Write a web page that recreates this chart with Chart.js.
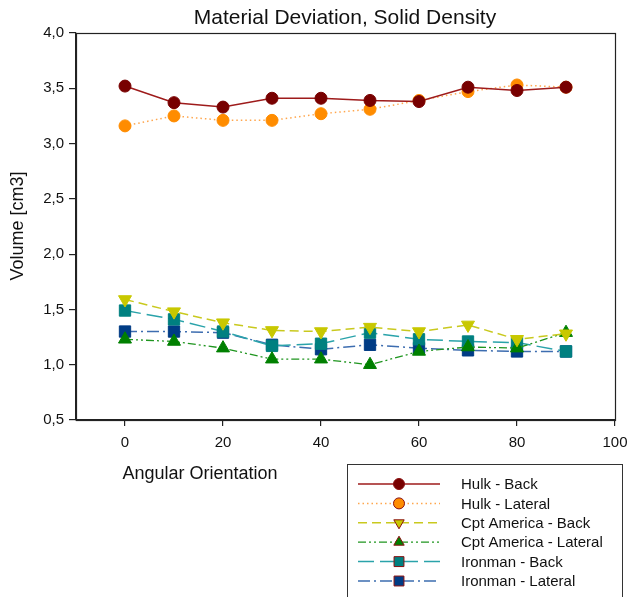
<!DOCTYPE html>
<html>
<head>
<meta charset="utf-8">
<script src="https://cdn.jsdelivr.net/npm/chart.js@4.4.1/dist/chart.umd.min.js"></script>
<style>
  html, body { margin: 0; padding: 0; background: #fff; }
  #wrap { width: 628px; height: 597px; }
</style>
</head>
<body>
<div id="wrap"><canvas id="c" width="628" height="597"></canvas></div>
<script>
// Angular orientation (degrees)
const angles = [0, 10, 20, 30, 40, 50, 60, 70, 80, 90];

// Measured volumes [cm3]
const hulkBack        = [3.52, 3.37, 3.33, 3.41, 3.41, 3.39, 3.38, 3.51, 3.48, 3.51];
const hulkLateral     = [3.16, 3.25, 3.21, 3.21, 3.27, 3.31, 3.39, 3.47, 3.53, 3.51];
const cptBack         = [1.59, 1.48, 1.38, 1.31, 1.30, 1.34, 1.30, 1.36, 1.23, 1.28];
const cptLateral      = [1.23, 1.21, 1.15, 1.05, 1.05, 1.00, 1.12, 1.16, 1.15, 1.29];
const ironmanBack     = [1.49, 1.41, 1.30, 1.17, 1.19, 1.29, 1.23, 1.21, 1.20, 1.12];
const ironmanLateral  = [1.30, 1.30, 1.29, 1.18, 1.14, 1.18, 1.15, 1.13, 1.12, 1.12];

const xTicks = [0, 20, 40, 60, 80, 100];
const yTicks = [0.5, 1.0, 1.5, 2.0, 2.5, 3.0, 3.5, 4.0];

const FONT = '"Liberation Sans", Arial, sans-serif';

function pts(values) {
  return angles.map((a, i) => ({ x: a, y: values[i] }));
}

const series = [
  { label: 'Hulk - Back', data: hulkBack, line: '#9e1b1b', fill: '#780000', dash: [], style: 'circle', r: 6, lr: 5.5, w: 1.5 },
  { label: 'Hulk - Lateral', data: hulkLateral, line: '#ffa64d', fill: '#ff8c00', dash: [1.5, 3], style: 'circle', r: 6, lr: 5.5, w: 1.5 },
  { label: 'Cpt America - Back', data: cptBack, line: '#c9c91e', fill: '#c8c800', dash: [9, 5], style: 'triangle', rotation: 180, r: 7.5, lr: 6, w: 1.5 },
  { label: 'Cpt America - Lateral', data: cptLateral, line: '#1f951f', fill: '#008000', dash: [8, 3, 2, 3, 2, 3], style: 'triangle', rotation: 0, r: 7.5, lr: 6, w: 1.3 },
  { label: 'Ironman - Back', data: ironmanBack, line: '#2aa3aa', fill: '#008080', dash: [16, 6], style: 'rect', r: 8, lr: 7, w: 1.5 },
  { label: 'Ironman - Lateral', data: ironmanLateral, line: '#3d6db0', fill: '#003c85', dash: [12, 4, 2, 4], style: 'rect', r: 8, lr: 7, w: 1.5 }
];

const datasets = series.map(s => ({
  label: s.label,
  data: pts(s.data),
  borderColor: s.line,
  borderWidth: s.w,
  borderDash: s.dash,
  backgroundColor: s.fill,
  pointStyle: s.style,
  pointRotation: s.rotation || 0,
  pointRadius: s.r,
  pointHoverRadius: s.r,
  pointBackgroundColor: s.fill,
  pointBorderColor: s.fill,
  pointBorderWidth: 1,
  tension: 0,
  fill: false
}));

const decorations = {
  id: 'decorations',
  afterDraw(chart) {
    const ctx = chart.ctx;
    const a = chart.chartArea;
    ctx.save();
    // frame around the plot
    ctx.strokeStyle = '#222';
    ctx.lineWidth = 1.2;
    ctx.strokeRect(a.left + 0.5, a.top + 0.5, a.right - a.left, a.bottom - a.top);

    // title
    ctx.fillStyle = '#111';
    ctx.font = '21px ' + FONT;
    ctx.textAlign = 'center';
    ctx.textBaseline = 'middle';
    ctx.fillText('Material Deviation, Solid Density', 345, 18);

    // axis titles
    ctx.font = '18px ' + FONT;
    ctx.fillText('Angular Orientation', 200, 474);
    ctx.save();
    ctx.translate(18, 226);
    ctx.rotate(-Math.PI / 2);
    ctx.fillText('Volume [cm3]', 0, 0);
    ctx.restore();

    // legend box
    const bx = 347, by = 464, bw = 275, bh = 140;
    ctx.fillStyle = '#fff';
    ctx.fillRect(bx, by, bw, bh);
    ctx.strokeStyle = '#333';
    ctx.lineWidth = 1;
    ctx.strokeRect(bx + 0.5, by + 0.5, bw, bh);

    ctx.font = '15px ' + FONT;
    ctx.textAlign = 'left';
    const rowH = 19.4;
    series.forEach((s, i) => {
      const y = by + 20 + i * rowH;
      ctx.save();
      ctx.strokeStyle = s.line;
      ctx.lineWidth = s.w;
      ctx.setLineDash(s.dash);
      ctx.beginPath();
      ctx.moveTo(bx + 11, y);
      ctx.lineTo(bx + 93, y);
      ctx.stroke();
      ctx.restore();
      ctx.save();
      ctx.fillStyle = s.fill;
      ctx.strokeStyle = '#8a1010';
      ctx.lineWidth = 1;
      Chart.helpers.drawPoint(ctx, {
        pointStyle: s.style,
        rotation: s.rotation || 0,
        radius: s.lr,
        borderWidth: 1
      }, bx + 52, y);
      ctx.restore();
      ctx.fillStyle = '#111';
      ctx.fillText(s.label, bx + 114, y + 1);
    });
    ctx.restore();
  }
};

new Chart(document.getElementById('c'), {
  type: 'line',
  data: { datasets },
  options: {
    responsive: false,
    animation: false,
    devicePixelRatio: 1,
    layout: { padding: { top: 33, right: 13, left: 0, bottom: 0 } },
    plugins: {
      legend: { display: false },
      title: { display: false },
      tooltip: { enabled: false }
    },
    scales: {
      x: {
        type: 'linear',
        min: -10,
        max: 100,
        afterBuildTicks(scale) { scale.ticks = xTicks.map(v => ({ value: v })); },
        afterFit(scale) { scale.height = 177; scale.paddingRight = 0; scale.paddingLeft = 0; },
        grid: { drawOnChartArea: false, drawTicks: true, tickLength: 6, color: '#222', lineWidth: 1.2 },
        border: { display: true, color: '#222', width: 1.2 },
        ticks: {
          color: '#111',
          font: { family: FONT, size: 15 },
          padding: 8,
          maxRotation: 0,
          callback: v => String(v)
        }
      },
      y: {
        type: 'linear',
        min: 0.5,
        max: 4.0,
        afterBuildTicks(scale) { scale.ticks = yTicks.map(v => ({ value: v })); },
        afterFit(scale) { scale.width = 76; scale.paddingTop = 0; scale.paddingBottom = 0; },
        grid: { drawOnChartArea: false, drawTicks: true, tickLength: 7, color: '#222', lineWidth: 1.2 },
        border: { display: true, color: '#222', width: 1.2 },
        ticks: {
          color: '#111',
          font: { family: FONT, size: 15 },
          padding: 5,
          callback: v => v.toFixed(1).replace('.', ',')
        }
      }
    }
  },
  plugins: [decorations]
});
</script>
</body>
</html>
